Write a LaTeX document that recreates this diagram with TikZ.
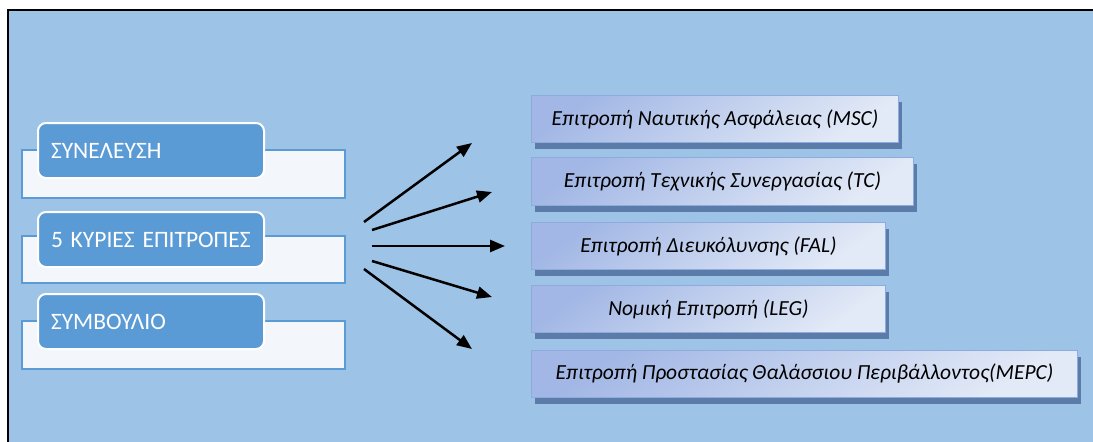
\documentclass[tikz,border=0pt]{standalone}
\usepackage{fontspec}
\setmainfont{Carlito}
\usetikzlibrary{arrows.meta,shadows}
\definecolor{bgc}{HTML}{9DC3E6}
\definecolor{lightfill}{HTML}{F3F7FC}
\definecolor{lightborder}{HTML}{5B9BD5}
\definecolor{darkfill}{HTML}{5B9BD5}
\definecolor{boxdark}{HTML}{A2B7E5}
\definecolor{boxlight}{HTML}{E3EAF7}
\definecolor{boxborder}{HTML}{8FAADC}
\definecolor{shadowc}{HTML}{5B7BA8}
\tikzset{
  lightrect/.style={draw=lightborder, line width=2pt, fill=lightfill},
  darkbox/.style={draw=white, line width=2pt, fill=darkfill, rounded corners=8pt,
    text=white, font=\fontsize{23.5}{26}\selectfont, align=left, anchor=north west,
    inner xsep=13pt, inner ysep=0pt},
  combox/.style={draw=boxborder, line width=1pt, anchor=north west,
    top color=boxdark, bottom color=boxlight, shading angle=35,
    general shadow={fill=shadowc, shadow xshift=3pt, shadow yshift=-6pt},
    font=\fontsize{21.5}{24}\selectfont\itshape, inner sep=0pt},
  arr/.style={line width=2.5pt, -{Triangle[length=15pt,width=12pt]}}
}
\begin{document}
\begin{tikzpicture}[x=1pt,y=-1pt]
\useasboundingbox (0,0) rectangle (1093,442);
\fill[white] (0,0) rectangle (1093,442);
\fill[bgc] (8,10) rectangle (1093,442);
\draw[line width=2.5pt] (8,442) -- (8,10) -- (1093,10);
% left blocks
\draw[lightrect] (22,150) rectangle (345,198);
\draw[lightrect] (22,236) rectangle (345,283);
\draw[lightrect] (22,321) rectangle (345,369);
\node[darkbox, minimum width=226pt, minimum height=55pt, text width=200pt] (d1) at (37,122) {ΣΥΝΕΛΕΥΣΗ};
\node[darkbox, minimum width=226pt, minimum height=55pt, text width=200pt] (d2) at (37,211) {5 ΚΥΡΙΕΣ ΕΠΙΤΡΟΠΕΣ};
\node[darkbox, minimum width=226pt, minimum height=55pt, text width=200pt] (d3) at (37,293) {ΣΥΜΒΟΥΛΙΟ};
% right boxes
\node[combox, minimum width=367pt, minimum height=47pt] (b1) at (531,95) {Επιτροπή Ναυτικής Ασφάλειας (MSC)};
\node[combox, minimum width=382pt, minimum height=48pt] (b2) at (531,157) {Επιτροπή Τεχνικής Συνεργασίας (TC)};
\node[combox, minimum width=354pt, minimum height=47pt] (b3) at (531,222) {Επιτροπή Διευκόλυνσης (FAL)};
\node[combox, minimum width=354pt, minimum height=47pt] (b4) at (531,285) {Νομική Επιτροπή (LEG)};
\node[combox, minimum width=546pt, minimum height=47pt] (b5) at (531,350) {Επιτροπή Προστασίας Θαλάσσιου Περιβάλλοντος(MEPC)};
% arrows
\coordinate (s1) at (364,222); \coordinate (e1) at (472,143);
\coordinate (s2) at (372,230); \coordinate (e2) at (492,192);
\coordinate (s3) at (372,246); \coordinate (e3) at (505,246);
\coordinate (s4) at (372,261); \coordinate (e4) at (492,297);
\coordinate (s5) at (364,269); \coordinate (e5) at (472,349);
\draw[arr] (s1) -- (e1);
\draw[arr] (s2) -- (e2);
\draw[arr] (s3) -- (e3);
\draw[arr] (s4) -- (e4);
\draw[arr] (s5) -- (e5);
\end{tikzpicture}
\end{document}
